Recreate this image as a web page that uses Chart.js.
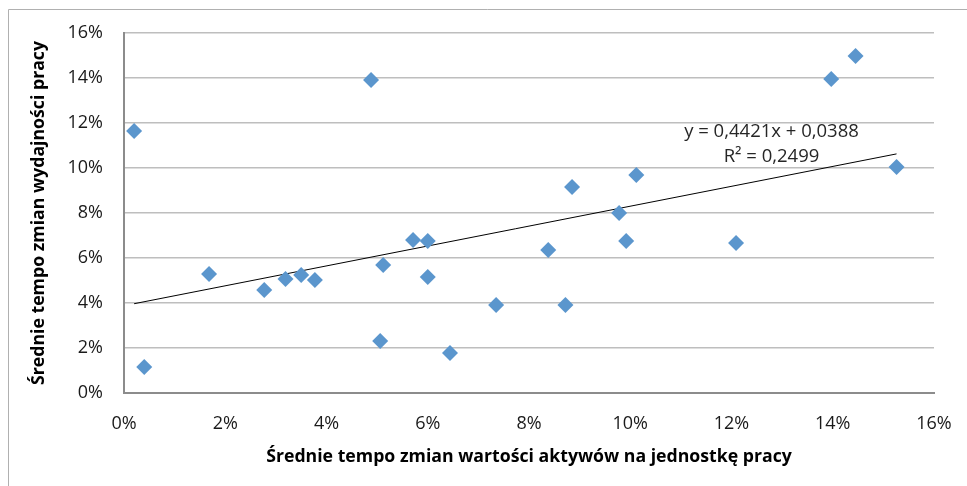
<!DOCTYPE html>
<html>
<head>
<meta charset="utf-8">
<script src="https://cdn.jsdelivr.net/npm/chart.js@4"></script>
<style>
  body { margin: 0; background: #fff; }
  canvas { display: block; }
</style>
</head>
<body>
<canvas id="chart" width="967" height="486"></canvas>
<script>
// dane (w %)
const assetGrowth = [0.2, 0.4, 1.68, 2.77, 3.19, 3.5, 3.77, 4.88, 5.06, 5.12, 5.71, 6.0, 6.0, 6.44, 7.35, 8.38, 8.72, 8.85, 9.78, 9.92, 10.12, 12.09, 13.97, 14.45, 15.26];
const productivityGrowth = [11.64, 1.16, 5.29, 4.58, 5.07, 5.24, 5.02, 13.91, 2.31, 5.69, 6.8, 6.76, 5.16, 1.78, 3.91, 6.36, 3.91, 9.16, 8.0, 6.76, 9.69, 6.67, 13.96, 14.98, 10.04];
const xTicks = [0, 2, 4, 6, 8, 10, 12, 14, 16];
const yTicks = [0, 2, 4, 6, 8, 10, 12, 14, 16];
const trendSlope = 0.4421;
const trendIntercept = 0.0388;
const equationLines = ['y = 0,4421x + 0,0388', 'R² = 0,2499'];
const equationAt = { x: 12.79, y: [11.6, 10.49] };

const FONT = "'Open Sans', 'Liberation Sans', sans-serif";

const points = assetGrowth.map((x, i) => ({ x: x, y: productivityGrowth[i] }));
const xMin = Math.min(...assetGrowth);
const xMax = Math.max(...assetGrowth);
const trend = [xMin, xMax].map(x => ({ x: x, y: (trendSlope * x / 100 + trendIntercept) * 100 }));

// ramka wykresu + opis linii trendu
const extras = {
  id: 'extras',
  beforeDraw(chart) {
    const c = chart.ctx;
    c.save();
    c.strokeStyle = '#b0b0b0';
    c.lineWidth = 1;
    c.beginPath();
    c.moveTo(8.5, 486);
    c.lineTo(8.5, 9.5);
    c.lineTo(967, 9.5);
    c.stroke();
    c.restore();
  },
  afterDatasetsDraw(chart) {
    const c = chart.ctx;
    const sx = chart.scales.x, sy = chart.scales.y;
    c.save();
    c.font = '18.5px ' + FONT;
    c.fillStyle = '#262626';
    c.textAlign = 'center';
    c.textBaseline = 'middle';
    equationLines.forEach((t, i) => {
      c.fillText(t, sx.getPixelForValue(equationAt.x), sy.getPixelForValue(equationAt.y[i]));
    });
    c.restore();
  }
};

new Chart(document.getElementById('chart'), {
  type: 'scatter',
  data: {
    datasets: [{
      data: points,
      pointStyle: 'rectRot',
      pointRadius: 8,
      pointHoverRadius: 8,
      backgroundColor: '#5b96cd',
      borderColor: '#5b96cd',
      borderWidth: 0
    }, {
      type: 'line',
      data: trend,
      borderColor: '#000',
      borderWidth: 1,
      pointRadius: 0,
      fill: false
    }]
  },
  options: {
    responsive: false,
    animation: false,
    events: [],
    layout: { padding: { left: 8, top: 33, right: 33, bottom: 0 } },
    plugins: { legend: { display: false }, tooltip: { enabled: false } },
    scales: {
      x: {
        type: 'linear',
        min: 0, max: 16,
        afterBuildTicks: s => { s.ticks = xTicks.map(v => ({ value: v })); },
        afterFit: s => { s.height = 93; s.paddingLeft = 0; s.paddingRight = 0; },
        grid: { display: false, drawTicks: false },
        border: { display: true, color: '#8c8c8c', width: 2 },
        ticks: {
          padding: 20,
          color: '#1a1a1a',
          font: { family: FONT, size: 18 },
          callback: v => v + '%'
        },
        title: {
          display: true,
          text: 'Średnie tempo zmian wartości aktywów na jednostkę pracy',
          color: '#000',
          font: { family: FONT, size: 17.7, weight: 'bold' },
          padding: { top: 0, bottom: 18 }
        }
      },
      y: {
        min: 0, max: 16,
        afterBuildTicks: s => { s.ticks = yTicks.map(v => ({ value: v })); },
        afterFit: s => { s.width = 116; s.paddingTop = 0; s.paddingBottom = 0; },
        grid: { color: '#bebebe', lineWidth: 1.5, drawTicks: false },
        border: { display: true, color: '#8c8c8c', width: 2 },
        ticks: {
          padding: 21,
          color: '#1a1a1a',
          font: { family: FONT, size: 18 },
          callback: v => v + '%'
        },
        title: {
          display: true,
          text: 'Średnie tempo zmian wydajności pracy',
          color: '#000',
          font: { family: FONT, size: 17.7, weight: 'bold' },
          padding: { top: 20, bottom: 0 }
        }
      }
    }
  },
  plugins: [extras]
});
</script>
</body>
</html>
